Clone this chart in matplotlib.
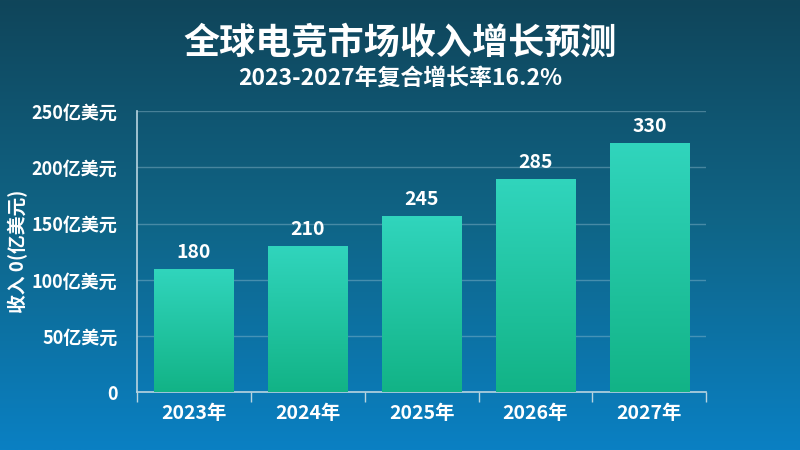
import matplotlib
matplotlib.use('Agg')
import matplotlib.pyplot as plt
import numpy as np
from matplotlib.colors import LinearSegmentedColormap

plt.rcParams['font.family'] = ['Noto Sans CJK SC', 'DejaVu Sans']

## données
annees = ['2023年', '2024年', '2025年', '2026年', '2027年']
hauteurs = [110, 130, 157, 190, 222]          # hauteur des barres sur l'axe
etiquettes = ['180', '210', '245', '285', '330']  # valeurs affichées au-dessus
ticks_y = [0, 50, 100, 150, 200, 250]
labels_y = ['0', '50亿美元', '100亿美元', '150亿美元', '200亿美元', '250亿美元']

titre = '全球电竞市场收入增长预测'
sous_titre = '2023-2027年复合增长率16.2%'
label_y = '收入 0(亿美元)'

fig = plt.figure(figsize=(8, 4.5), dpi=100)

## fond en dégradé
fond = fig.add_axes([0, 0, 1, 1])
cmap_fond = LinearSegmentedColormap.from_list('fond', ['#10455a', '#0f6587', '#0a80c3'])
grad = np.linspace(0, 1, 256).reshape(-1, 1)
fond.imshow(grad, aspect='auto', cmap=cmap_fond, extent=[0, 1, 0, 1], origin='upper')
fond.set_axis_off()

ax = fig.add_axes([0.171, 0.128, 0.712, 0.625])
ax.patch.set_alpha(0)

x = np.arange(len(annees))
barres = ax.bar(x, hauteurs, width=0.7, color='none', edgecolor='none', zorder=3)

cmap_barre = LinearSegmentedColormap.from_list('barre', ['#12b386', '#31d5bd'])
for b in barres:
    x0, y0 = b.get_x(), b.get_y()
    w, h = b.get_width(), b.get_height()
    im = ax.imshow(np.linspace(0, 1, 256).reshape(-1, 1), cmap=cmap_barre, origin='lower',
                   extent=[x0, x0 + w, y0, y0 + h], aspect='auto', zorder=3)
    im.set_clip_path(b)

for xi, h, t in zip(x, hauteurs, etiquettes):
    ax.text(xi, h + 6, t, ha='center', va='bottom', color='white',
            fontsize=14, fontweight='bold', zorder=4)

ax.set_xlim(-0.5, len(annees) - 0.5)
ax.set_ylim(0, 250)
ax.set_yticks(ticks_y)
ax.set_yticklabels(labels_y, color='white', fontsize=13, fontweight='bold')
ax.set_xticks(x)
ax.set_xticklabels(annees, color='white', fontsize=14, fontweight='bold')
ax.set_xticks(np.arange(-0.5, len(annees)), minor=True)
ax.tick_params(axis='x', which='major', length=0, pad=8)
ax.tick_params(axis='x', which='minor', length=7, color='#b8d4e0', width=1)
ax.tick_params(axis='y', length=0, pad=14)

ax.grid(axis='y', color='#9cc4d4', alpha=0.4, linewidth=1, zorder=0)
for s in ['top', 'right']:
    ax.spines[s].set_visible(False)
for s in ['left', 'bottom']:
    ax.spines[s].set_color('#b8d4e0')
    ax.spines[s].set_linewidth(1.2)

ax.set_ylabel(label_y, color='white', fontsize=13.5, fontweight='bold')
ax.yaxis.set_label_coords(-0.19, 0.5)

fig.text(0.5, 0.905, titre, ha='center', va='center', color='white',
         fontsize=26, fontweight='bold')
fig.text(0.5, 0.827, sous_titre, ha='center', va='center', color='white',
         fontsize=16.5, fontweight='bold')

plt.savefig('out.png', dpi=100)
